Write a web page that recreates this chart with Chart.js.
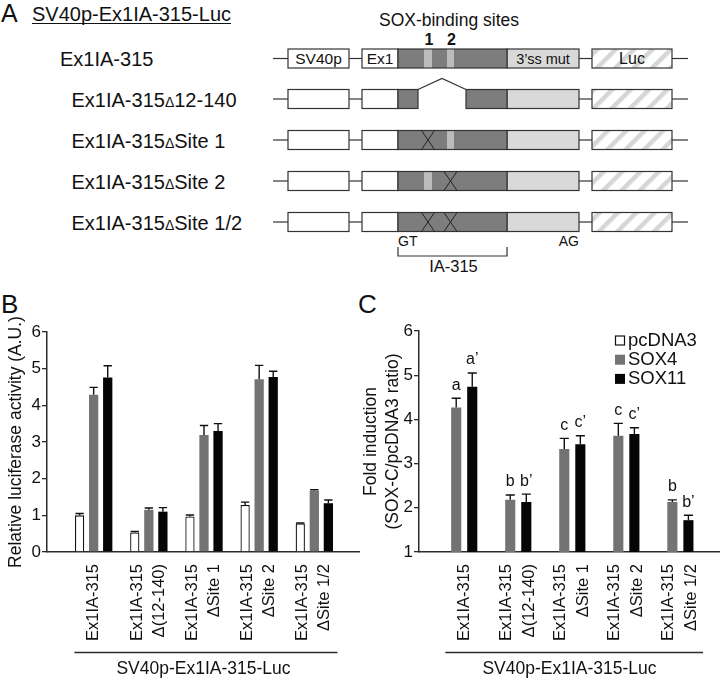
<!DOCTYPE html>
<html>
<head>
<meta charset="utf-8">
<title>SV40p-Ex1IA-315-Luc</title>
<script src="https://cdn.jsdelivr.net/npm/chart.js@4.4.1/dist/chart.umd.min.js"></script>
<style>
  html, body { margin: 0; padding: 0; background: #fff; }
  #fig { position: relative; width: 720px; height: 680px; overflow: hidden; }
  #art { position: absolute; left: 0; top: 0; }
  canvas { position: absolute; top: 280px; }
  #chartB { left: 0; }
  #chartC { left: 360px; }
  #art text { font-family: "Liberation Sans", Arial, Helvetica, sans-serif; fill: #111; }
</style>
</head>
<body>
<div id="fig">
  <svg id="art" width="720" height="680" xmlns="http://www.w3.org/2000/svg"></svg>
  <canvas id="chartB" width="360" height="400"></canvas>
  <canvas id="chartC" width="360" height="400"></canvas>
</div>
<script>
// ---- data -----------------------------------------------------------------
const categories = [
  ['Ex1IA-315'],
  ['Ex1IA-315', 'Δ(12-140)'],
  ['Ex1IA-315', 'ΔSite 1'],
  ['Ex1IA-315', 'ΔSite 2'],
  ['Ex1IA-315', 'ΔSite 1/2'],
];
const seriesNames = ['pcDNA3', 'SOX4', 'SOX11'];

// B: relative luciferase activity (A.U.), mean and upper error
const lucPcDNA3    = [1.00, 0.53, 0.97, 1.28, 0.78];
const lucPcDNA3Err = [0.05, 0.03, 0.04, 0.08, 0.01];
const lucSOX4      = [4.29, 1.15, 3.19, 4.71, 1.68];
const lucSOX4Err   = [0.20, 0.05, 0.26, 0.38, 0.02];
const lucSOX11     = [4.76, 1.10, 3.30, 4.77, 1.33];
const lucSOX11Err  = [0.32, 0.11, 0.20, 0.16, 0.09];

// C: fold induction (SOX-C / pcDNA3)
const foldSOX4     = [4.27, 2.18, 3.33, 3.63, 2.13];
const foldSOX4Err  = [0.21, 0.11, 0.24, 0.28, 0.05];
const foldSOX11    = [4.74, 2.13, 3.44, 3.67, 1.72];
const foldSOX11Err = [0.31, 0.18, 0.19, 0.14, 0.11];
const sigSOX4  = ['a', 'b', 'c', 'c', 'b'];
const sigSOX11 = ['a’', 'b’', 'c’', 'c’', 'b’'];

const yTicksB = [0, 1, 2, 3, 4, 5, 6];
const yTicksC = [1, 2, 3, 4, 5, 6];
const yTitleB = 'Relative luciferase activity (A.U.)';
const yTitleC = ['Fold induction', '(SOX-C/pcDNA3 ratio)'];
const reporterName = 'SV40p-Ex1IA-315-Luc';

// Panel A constructs: per SOX site, 's' = intact site, 'x' = mutated, null row = deletion
const constructNames = ['Ex1IA-315', 'Ex1IA-315Δ12-140', 'Ex1IA-315ΔSite 1', 'Ex1IA-315ΔSite 2', 'Ex1IA-315ΔSite 1/2'];
const constructSites = [['s', 's'], null, ['x', 's'], ['s', 'x'], ['x', 'x']];

// ---- styling ----------------------------------------------------------------
const FONT = '"Liberation Sans", Arial, Helvetica, sans-serif';
const INK = '#111';
const AXIS = '#2b2b2b';
const GREY = '#737373';
const LABEL_SHIFT = 0.215; // centres two-line tick labels on their group

Chart.defaults.font.family = FONT;
Chart.defaults.color = INK;

// ---- panel A: construct schematic (plain SVG) -------------------------------
const NS = 'http://www.w3.org/2000/svg';
const art = document.getElementById('art');
function el(tag, attrs, text, parent) {
  const e = document.createElementNS(NS, tag);
  for (const k in attrs) e.setAttribute(k, attrs[k]);
  if (text != null) e.textContent = text;
  (parent || art).appendChild(e);
  return e;
}

function drawPanelA() {
  const defs = el('defs', {});
  const pat = el('pattern', {id: 'hatch', patternUnits: 'userSpaceOnUse', width: 13, height: 13,
    patternTransform: 'rotate(45)'}, null, defs);
  el('rect', {width: 13, height: 13, fill: '#fff'}, null, pat);
  el('rect', {width: 4.5, height: 13, fill: '#d6d6d6'}, null, pat);

  el('text', {x: 1, y: 21.7, 'font-size': 25}, 'A');
  el('text', {x: 32, y: 20.7, 'font-size': 20}, reporterName);
  el('line', {x1: 32, x2: 231, y1: 23.5, y2: 23.5, stroke: INK, 'stroke-width': 1.2});
  el('text', {x: 449, y: 26, 'font-size': 17.5, 'text-anchor': 'middle'}, 'SOX-binding sites');

  const rowTop = [49, 89.5, 130.5, 171.5, 212.5];
  const h = 19;
  const sv40 = [288, 349], ex1 = [362, 398], ia = [398, 507], ss = [507, 579], luc = [592, 672];
  const sites = [[424, 432], [447, 454]];
  const del = [418, 466];
  const stroke = {stroke: '#333', 'stroke-width': 1.2};

  el('text', {x: 429, y: 45, 'font-size': 16, 'font-weight': 'bold', 'text-anchor': 'middle'}, '1');
  el('text', {x: 451.5, y: 45, 'font-size': 16, 'font-weight': 'bold', 'text-anchor': 'middle'}, '2');

  const box = (x0, x1, top, fill) =>
    el('rect', Object.assign({x: x0, y: top, width: x1 - x0, height: h, fill}, stroke));

  constructNames.forEach((name, r) => {
    const top = rowTop[r], mid = top + h / 2;
    // label with a small delta sign
    const parts = name.split('Δ');
    const t = el('text', {x: r === 0 ? 60 : 71.5, y: mid + 7.5, 'font-size': 20}, parts[0]);
    if (parts[1]) {
      el('tspan', {'font-size': 14}, 'Δ', t);
      el('tspan', {}, parts[1], t);
    }
    // backbone between the blocks
    [[273, sv40[0]], [sv40[1], ex1[0]], [ss[1], luc[0]], [luc[1], 688]].forEach(([a, b]) =>
      el('line', Object.assign({x1: a, x2: b, y1: mid, y2: mid}, stroke)));

    box(sv40[0], sv40[1], top, '#fff');
    box(ex1[0], ex1[1], top, '#fff');
    box(ss[0], ss[1], top, '#d9d9d9');
    box(luc[0], luc[1], top, 'url(#hatch)');

    const s = constructSites[r];
    if (!s) {
      box(ia[0], del[0], top, '#7d7d7d');
      box(del[1], ia[1], top, '#7d7d7d');
      el('polyline', Object.assign({points: `${del[0]},${top} ${(del[0] + del[1]) / 2},${top - 11} ${del[1]},${top}`,
        fill: 'none'}, stroke));
    } else {
      box(ia[0], ia[1], top, '#7d7d7d');
      s.forEach((kind, k) => {
        const [a, b] = sites[k];
        if (kind === 's') {
          el('rect', {x: a, y: top + 0.7, width: b - a, height: h - 1.4, fill: '#bcbcbc'});
        } else {
          const c = (a + b) / 2;
          el('path', {d: `M${c - 6.5},${top} L${c + 6.5},${top + h} M${c + 6.5},${top} L${c - 6.5},${top + h}`,
            stroke: '#222', 'stroke-width': 1, fill: 'none'});
        }
      });
    }
    if (r === 0) {
      el('text', {x: (sv40[0] + sv40[1]) / 2, y: mid + 5.5, 'font-size': 15.5, 'text-anchor': 'middle'}, 'SV40p');
      el('text', {x: (ex1[0] + ex1[1]) / 2, y: mid + 5.5, 'font-size': 15.5, 'text-anchor': 'middle'}, 'Ex1');
      el('text', {x: (ss[0] + ss[1]) / 2, y: mid + 5, 'font-size': 14.5, 'text-anchor': 'middle'}, '3’ss mut');
      el('text', {x: (luc[0] + luc[1]) / 2, y: mid + 5.5, 'font-size': 16, 'text-anchor': 'middle'}, 'Luc');
    }
  });

  el('text', {x: ia[0], y: 245.5, 'font-size': 14}, 'GT');
  el('text', {x: ss[1], y: 245.5, 'font-size': 14, 'text-anchor': 'end'}, 'AG');
  el('path', Object.assign({d: `M${ia[0]},247 L${ia[0]},256 L${ia[1]},256 L${ia[1]},247`, fill: 'none'}, stroke));
  el('text', {x: (ia[0] + ia[1]) / 2 + 1, y: 272, 'font-size': 16.5, 'text-anchor': 'middle'}, 'IA-315');

  el('text', {x: 1, y: 313.3, 'font-size': 26}, 'B');
  el('text', {x: 358, y: 313.3, 'font-size': 26}, 'C');
}
drawPanelA();

// ---- chart plugins ----------------------------------------------------------
// Upper error bars (and significance letters when a dataset has them).
const errorBars = {
  id: 'errorBars',
  afterDatasetsDraw(chart) {
    const ctx = chart.ctx, y = chart.scales.y;
    chart.data.datasets.forEach((ds, di) => {
      if (!ds.errors) return;
      chart.getDatasetMeta(di).data.forEach((bar, i) => {
        const tip = y.getPixelForValue(ds.data[i].y + ds.errors[i]);
        const half = bar.width * 0.45;
        ctx.save();
        ctx.strokeStyle = INK;
        ctx.lineWidth = 1.4;
        ctx.beginPath();
        ctx.moveTo(bar.x, bar.y);
        ctx.lineTo(bar.x, tip);
        ctx.moveTo(bar.x - half, tip);
        ctx.lineTo(bar.x + half, tip);
        ctx.stroke();
        if (ds.letters) {
          ctx.fillStyle = INK;
          ctx.font = '16px ' + FONT;
          ctx.textAlign = 'center';
          ctx.textBaseline = 'middle';
          ctx.fillText(ds.letters[i], bar.x, tip - 13);
        }
        ctx.restore();
      });
    });
  }
};

// Rule above the reporter name, spanning the bar groups.
const reporterRule = {
  id: 'reporterRule',
  afterDraw(chart) {
    const {ctx, chartArea} = chart, x = chart.scales.x;
    const y = chartArea.bottom + 100.5;
    ctx.save();
    ctx.strokeStyle = AXIS;
    ctx.lineWidth = 1.3;
    ctx.beginPath();
    ctx.moveTo(x.getPixelForValue(-0.35), y);
    ctx.lineTo(x.getPixelForValue(4.42), y);
    ctx.stroke();
    ctx.restore();
  }
};

// Square-swatch legend inside the top-right of the plot.
const boxLegend = {
  id: 'boxLegend',
  afterDraw(chart, args, opts) {
    if (!opts.show) return;
    const {ctx, chartArea} = chart;
    chart.data.datasets.forEach((ds, i) => {
      const bx = chartArea.right - 105, cy = chartArea.top + 9.5 + i * 19.2;
      ctx.save();
      ctx.fillStyle = ds.backgroundColor;
      ctx.fillRect(bx, cy - 5, 10, 10);
      if (ds.borderWidth) {
        ctx.strokeStyle = INK;
        ctx.lineWidth = 1.2;
        ctx.strokeRect(bx + 0.5, cy - 4.5, 9, 9);
      }
      ctx.fillStyle = INK;
      ctx.font = '18.5px ' + FONT;
      ctx.textBaseline = 'middle';
      ctx.fillText(ds.label, chartArea.right - 92, cy + 0.5);
      ctx.restore();
    });
  }
};

const points = vals => vals.map((v, i) => ({x: i, y: v}));

function makeChart(id, o) {
  return new Chart(document.getElementById(id), {
    type: 'bar',
    data: {datasets: o.datasets},
    options: {
      responsive: false,
      animation: false,
      events: [],
      layout: {padding: {top: o.top, left: 0, right: 0, bottom: 0}},
      plugins: {
        legend: {display: false},
        tooltip: {enabled: false},
        boxLegend: {show: o.legend},
        title: {display: true, text: reporterName, position: 'bottom', fullSize: false,
          color: INK, font: {size: 17.5, weight: 'normal'}, padding: {top: 4, bottom: 0}},
      },
      scales: {
        x: {
          type: 'linear', min: o.xMin, max: o.xMax, offset: false, weight: 0,
          afterBuildTicks: s => { s.ticks = categories.map((_, i) => ({value: i})); },
          grid: {display: false, drawTicks: false},
          border: {display: true, color: AXIS, width: 1.5},
          ticks: {display: false},
          afterFit: s => { s.height = 0; s.paddingLeft = 0; s.paddingRight = 0; },
        },
        xl: {
          type: 'linear', position: 'bottom', axis: 'x', min: o.xMin, max: o.xMax, offset: false, weight: 1,
          afterBuildTicks: s => {
            s.ticks = categories.map((c, i) => ({value: i - (c.length - 1) * LABEL_SHIFT}));
          },
          grid: {display: false, drawTicks: false},
          border: {display: false},
          ticks: {autoSkip: false, minRotation: 90, maxRotation: 90, padding: 12, color: INK,
            font: {size: 16.5, lineHeight: 1.36}, callback: (v, i) => categories[i]},
          afterFit: s => { s.height = 103; s.paddingLeft = 0; s.paddingRight = 0; },
        },
        y: {
          min: o.yTicks[0], max: o.yTicks[o.yTicks.length - 1],
          afterBuildTicks: s => { s.ticks = o.yTicks.map(v => ({value: v})); },
          grid: {display: true, drawOnChartArea: false, drawTicks: true, tickLength: 5, color: AXIS, lineWidth: 1.3},
          border: {display: true, color: AXIS, width: 1.5},
          ticks: {font: {size: 17}, color: INK, padding: 1},
          title: {display: true, text: o.yTitle, color: INK,
            font: {size: 17.5, lineHeight: o.titleLineHeight}, padding: {top: o.titlePad, bottom: 0}},
          afterFit: s => { s.width = o.yWidth; s.paddingTop = 0; s.paddingBottom = 0; },
        },
      },
    },
    plugins: [errorBars, reporterRule, boxLegend],
  });
}

const barsB = {xAxisID: 'x', yAxisID: 'y', categoryPercentage: 0.764, barPercentage: 0.66};
const barsC = {xAxisID: 'x', yAxisID: 'y', categoryPercentage: 0.594, barPercentage: 0.63};

makeChart('chartB', {
  top: 52, yWidth: 47, titlePad: 5.5, titleLineHeight: 1.2,
  xMin: -0.846, xMax: 4.828, yTicks: yTicksB, yTitle: yTitleB, legend: false,
  datasets: [
    Object.assign({label: seriesNames[0], data: points(lucPcDNA3), errors: lucPcDNA3Err,
      backgroundColor: '#fff', borderColor: INK, borderWidth: 1.3}, barsB),
    Object.assign({label: seriesNames[1], data: points(lucSOX4), errors: lucSOX4Err,
      backgroundColor: GREY, borderWidth: 0}, barsB),
    Object.assign({label: seriesNames[2], data: points(lucSOX11), errors: lucSOX11Err,
      backgroundColor: '#050505', borderWidth: 0}, barsB),
  ],
});

makeChart('chartC', {
  top: 51, yWidth: 59, titlePad: 0, titleLineHeight: 1.25,
  xMin: -0.837, xMax: 4.733, yTicks: yTicksC, yTitle: yTitleC, legend: true,
  datasets: [
    // pcDNA3 is the reference of the ratio: legend entry only, no bars
    Object.assign({label: seriesNames[0], data: [], grouped: false,
      backgroundColor: '#fff', borderColor: INK, borderWidth: 1.3}, barsC),
    Object.assign({label: seriesNames[1], data: points(foldSOX4), errors: foldSOX4Err, letters: sigSOX4,
      backgroundColor: GREY, borderWidth: 0}, barsC),
    Object.assign({label: seriesNames[2], data: points(foldSOX11), errors: foldSOX11Err, letters: sigSOX11,
      backgroundColor: '#050505', borderWidth: 0}, barsC),
  ],
});
</script>
</body>
</html>
